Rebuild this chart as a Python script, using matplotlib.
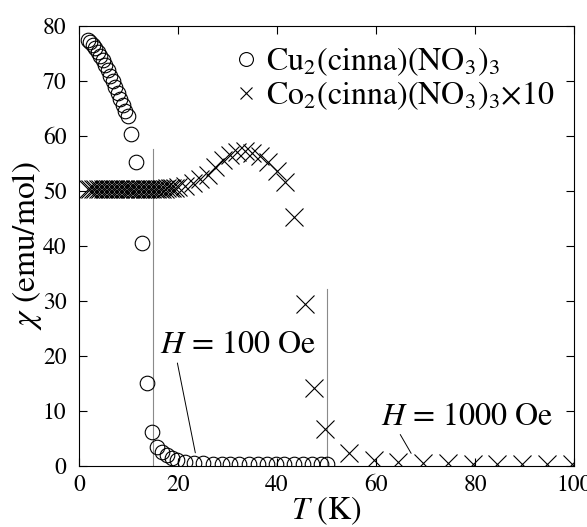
import matplotlib
matplotlib.use("Agg")
import matplotlib.pyplot as plt
from matplotlib.lines import Line2D

plt.rcParams['font.family'] = ['STIXGeneral', 'DejaVu Serif']
plt.rcParams['mathtext.fontset'] = 'stix'

# Cu2(cinna)(NO3)3 data
T_cu = [1.8, 2.3, 2.8, 3.3, 3.8, 4.3, 4.8, 5.3, 5.8, 6.3, 6.8, 7.3, 7.8, 8.3, 8.8,
        9.3, 9.9, 10.6, 11.6, 12.7, 13.7, 14.8, 15.7, 16.7, 17.7, 18.7, 19.7,
        21.5, 23.3, 25.1, 27.0, 28.8, 30.6, 32.4, 34.3, 36.1, 37.9, 39.7, 41.5,
        43.4, 45.2, 47.0, 48.8, 50.0]
chi_cu = [77.5, 77.1, 76.6, 76.0, 75.3, 74.6, 73.8, 72.9, 72.0, 71.0, 70.0, 69.0,
          67.9, 66.8, 65.7, 64.6, 63.6, 60.3, 55.2, 40.6, 15.1, 6.2, 3.5, 2.6, 2.0,
          1.4, 1.1, 0.8, 0.6, 0.5, 0.45, 0.4, 0.35, 0.35, 0.3, 0.3, 0.3, 0.3, 0.3,
          0.3, 0.3, 0.3, 0.3, 0.3]

# Co2(cinna)(NO3)3 x10 data
T_co = [1.8, 2.3, 2.8, 3.3, 3.8, 4.3, 4.8, 5.3, 5.8, 6.3, 6.8, 7.3, 7.8, 8.3, 8.8,
        9.3, 9.8, 10.3, 10.8, 11.3, 11.8, 12.3, 12.8, 13.3, 13.8, 14.3, 14.8,
        15.3, 15.8, 16.3, 16.8, 17.3, 17.8, 18.3, 18.8, 19.3,
        20.0, 21.5, 23.0, 24.5, 26.0, 27.5, 29.0, 30.5, 32.0, 33.5, 35.0, 36.5,
        38.2, 39.9, 41.6, 43.5, 45.7, 47.5, 49.6, 54.5, 59.5, 64.5, 69.5, 74.5,
        79.5, 84.5, 89.5, 94.5, 99.5]
chi_co = [50.3, 50.3, 50.3, 50.3, 50.3, 50.3, 50.3, 50.3, 50.3, 50.3, 50.3, 50.3,
          50.3, 50.3, 50.3, 50.3, 50.3, 50.3, 50.3, 50.3, 50.3, 50.3, 50.3, 50.3,
          50.3, 50.3, 50.3, 50.3, 50.3, 50.4, 50.4, 50.4, 50.5, 50.5, 50.5, 50.6,
          50.7, 50.9, 51.4, 52.1, 53.0, 54.3, 55.6, 56.6, 57.1, 57.3, 57.0, 56.4,
          55.3, 53.6, 51.6, 45.2, 29.4, 14.2, 6.8, 2.3, 1.1, 0.8, 0.6, 0.5,
          0.4, 0.35, 0.3, 0.3, 0.3]

labels = [r'Cu$_2$(cinna)(NO$_3$)$_3$', r'Co$_2$(cinna)(NO$_3$)$_3$×10']

# transition markers
T_lines = [15.0, 50.0]
chi_line_top = [57.7, 32.1]

fig = plt.figure(figsize=(5.87, 5.27), dpi=100)
ax = fig.add_axes([79/587, 1 - 466/527, (574 - 79)/587, (466 - 26)/527])

for t, top in zip(T_lines, chi_line_top):
    ax.plot([t, t], [0, top], color='#8a8a8a', lw=0.8, zorder=1)

ax.plot(T_cu, chi_cu, linestyle='none', marker='o', markersize=10.5,
        markerfacecolor='none', markeredgecolor='black', markeredgewidth=0.8,
        zorder=3)
ax.plot(T_co, chi_co, linestyle='none', marker='x', markersize=12.5,
        color='black', markeredgewidth=0.8, zorder=3)

ax.set_xlim(0, 100)
ax.set_ylim(0, 80)
ax.set_xticks([0, 20, 40, 60, 80, 100])
ax.set_yticks([0, 10, 20, 30, 40, 50, 60, 70, 80])
ax.tick_params(direction='in', length=6, width=0.8, top=True, right=True,
               labelsize=17)
ax.tick_params(axis='y', pad=9)
ax.tick_params(axis='x', pad=6)
for s in ax.spines.values():
    s.set_linewidth(0.8)

ax.set_xlabel(r'$T$ (K)', fontsize=23, labelpad=-1)
ax.set_ylabel(r'$\chi$ (emu/mol)', fontsize=24, labelpad=-1)

ax.annotate(r'$H$ = 100 Oe', xy=(23.5, 2.4), xytext=(16.3, 20.5),
            fontsize=23, ha='left', va='baseline',
            arrowprops=dict(arrowstyle='-', color='black', lw=0.7,
                            shrinkA=0, shrinkB=0,
                            relpos=(0.11, 0.0)))
ax.annotate(r'$H$ = 1000 Oe', xy=(67.1, 2.3), xytext=(61.1, 7.5),
            fontsize=23, ha='left', va='baseline',
            arrowprops=dict(arrowstyle='-', color='black', lw=0.7,
                            shrinkA=0, shrinkB=0,
                            relpos=(0.1, 0.0)))

handles = [
    Line2D([], [], linestyle='none', marker='o', markersize=10,
           markerfacecolor='none', markeredgecolor='black', markeredgewidth=0.8),
    Line2D([], [], linestyle='none', marker='x', markersize=9,
           color='black', markeredgewidth=0.8),
]
ax.legend(handles, labels, loc='upper right', frameon=False, fontsize=23,
          handletextpad=0.15, borderaxespad=0.4, borderpad=0.2,
          labelspacing=0.05, handlelength=1.0, bbox_to_anchor=(1.0, 1.0))

fig.savefig('out.png', dpi=100)
